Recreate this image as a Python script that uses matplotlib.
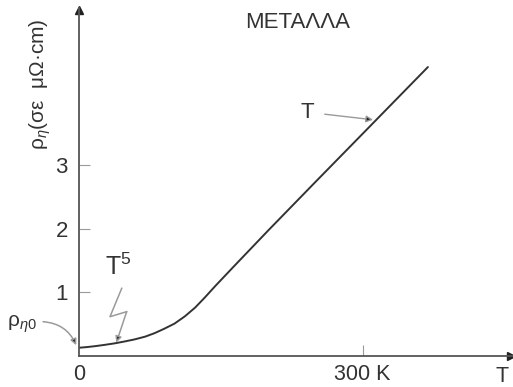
"""Ειδική αντίσταση μετάλλων συναρτήσει της θερμοκρασίας (σχηματικό)."""
import numpy as np
import matplotlib
matplotlib.use("Agg")
import matplotlib.pyplot as plt

plt.rcParams["font.family"] = ["Liberation Sans", "DejaVu Sans"]
plt.rcParams["mathtext.fontset"] = "custom"
plt.rcParams["mathtext.rm"] = "Liberation Sans"
plt.rcParams["mathtext.it"] = "Liberation Sans:italic"

# θερμοκρασία (K) και ειδική αντίσταση (μΩ·cm), διαβασμένα από το σχήμα
temp_k = [0, 8, 17, 27, 38, 48, 59, 70, 80, 90, 101, 112, 123, 133,
          144, 165, 200, 250, 300, 369]
rho = [0.13, 0.14, 0.155, 0.175, 0.20, 0.228, 0.262, 0.305, 0.36, 0.428,
       0.51, 0.625, 0.765, 0.92, 1.10, 1.43, 1.975, 2.74, 3.50, 4.55]

y_ticks = [1, 2, 3]
x_ticks = [0, 300]
x_ticklabels = ["0", "300 K"]

TXT = "#333333"
AX = "#555555"
GREY = "#9a9a9a"

fig = plt.figure(figsize=(5.13, 3.87), dpi=100)
ax = fig.add_axes([79 / 513, 31 / 387, 434 / 513, 348 / 387])
ax.set_xlim(0, 459)
ax.set_ylim(0, 5.48)

ax.plot(temp_k, rho, color="#333333", lw=1.4, solid_capstyle="round",
        solid_joinstyle="round")

for s in ("top", "right"):
    ax.spines[s].set_visible(False)
for s in ("left", "bottom"):
    ax.spines[s].set_color(AX)
    ax.spines[s].set_linewidth(1.3)
# βέλη στα άκρα των αξόνων
ax.plot(0.995, 0, ">", color="#222222", ms=6, transform=ax.transAxes, clip_on=False)
ax.plot(0, 0.995, "^", color="#222222", ms=6, transform=ax.transAxes, clip_on=False)

ax.set_yticks(y_ticks)
ax.set_xticks(x_ticks, x_ticklabels)
ax.tick_params(axis="both", direction="in", length=8, width=0.8, color=GREY,
               labelcolor=TXT, labelsize=16)
ax.tick_params(axis="y", pad=8)
ax.tick_params(axis="x", pad=6, labelsize=15.5)
ax.xaxis.get_major_ticks()[0].tick1line.set_visible(False)

ax.text(0.975, -0.028, "T", transform=ax.transAxes, ha="center", va="top",
        fontsize=15.5, color=TXT)
ax.set_ylabel("ρ$_{\\eta}$(σε  μΩ·cm)", fontsize=15, color=TXT)
ax.yaxis.set_label_coords(-0.06, 0.78)

fig.text(298 / 513, 1 - 23 / 387, "ΜΕΤΑΛΛΑ", ha="center", va="center",
         fontsize=16, color=TXT)

# σχόλιο T (γραμμική περιοχή)
ax.annotate("T", xy=(311, 3.72), xytext=(241, 3.84), fontsize=16, color=TXT,
            ha="center", va="center",
            arrowprops=dict(arrowstyle="-|>", ec=GREY, fc="#222222", lw=1.0,
                            mutation_scale=10, shrinkA=6, shrinkB=0))

# σχόλιο T^5 με τεθλασμένη γραμμή
ax.text(42, 1.40, "T$^5$", fontsize=18, color=TXT, ha="center", va="center")
ax.plot([45.2, 32.8, 50.4], [1.066, 0.619, 0.698], color=GREY, lw=1.1)
ax.annotate("", xy=(39.5, 0.21), xytext=(50.4, 0.698),
            arrowprops=dict(arrowstyle="-|>", ec=GREY, fc="#222222", lw=1.1,
                            mutation_scale=9, shrinkA=0, shrinkB=0))

# σχόλιο ρ_η0 με καμπύλο βέλος
ax.annotate("", xy=(-3, 0.17), xytext=(-38, 0.54), annotation_clip=False,
            arrowprops=dict(arrowstyle="-|>", ec=GREY, fc="#222222", lw=1.1,
                            mutation_scale=9, shrinkA=0, shrinkB=0,
                            connectionstyle="arc3,rad=-0.3"))
ax.text(-60, 0.50, "ρ$_{\\eta \\mathit{0}}$", fontsize=15, color=TXT,
        ha="center", va="center", clip_on=False)

fig.savefig("out.png", dpi=100)
